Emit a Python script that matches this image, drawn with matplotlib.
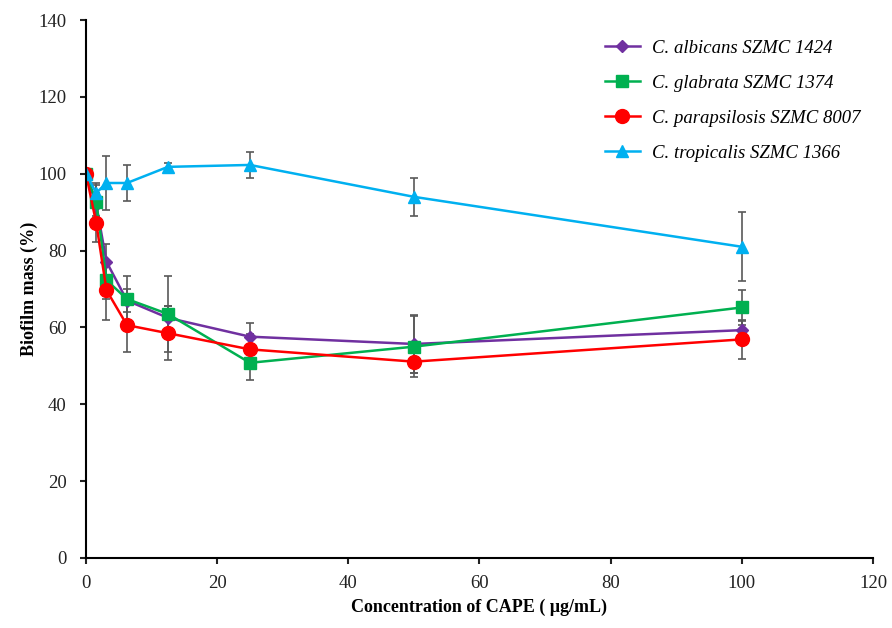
import numpy as np
import matplotlib.pyplot as plt

plt.rcParams['font.family'] = ['Liberation Serif', 'DejaVu Serif']

# concentrations of CAPE (ug/mL)
conc = [0, 1.5625, 3.125, 6.25, 12.5, 25, 50, 100]

albicans = [100, 92.0, 77.1, 67.0, 62.5, 57.6, 55.7, 59.3]
albicans_err = [0, 3.0, 4.5, 3.0, 3.0, 3.5, 7.5, 2.5]

glabrata = [100, 92.7, 72.3, 67.4, 63.5, 50.8, 55.0, 65.2]
glabrata_err = [0, 5.0, 5.0, 6.0, 10.0, 4.5, 8.0, 4.5]

parapsilosis = [100, 87.2, 69.7, 60.6, 58.5, 54.3, 51.1, 56.9]
parapsilosis_err = [0, 5.0, 7.7, 7.0, 7.0, 4.0, 3.0, 5.0]

tropicalis = [100, 95.0, 97.6, 97.6, 101.8, 102.3, 94.0, 81.0]
tropicalis_err = [0, 2.0, 7.0, 4.7, 1.0, 3.3, 5.0, 9.0]

series = [
    ("C. albicans SZMC 1424", albicans, albicans_err, "#7030A0", "D", 6),
    ("C. glabrata SZMC 1374", glabrata, glabrata_err, "#00B050", "s", 9),
    ("C. parapsilosis SZMC 8007", parapsilosis, parapsilosis_err, "#FF0000", "o", 10),
    ("C. tropicalis SZMC 1366", tropicalis, tropicalis_err, "#00B0F0", "^", 9),
]

fig = plt.figure(figsize=(8.92, 6.28), dpi=100)
ax = fig.add_axes([0.0964, 0.1115, 0.8823, 0.8565])

# error bars first (gray), then lines with markers
for name, vals, err, col, mk, ms in series:
    ax.errorbar(conc, vals, yerr=err, fmt='none', ecolor='#595959',
                elinewidth=1.2, capsize=3, capthick=1.2, zorder=1)

for name, vals, err, col, mk, ms in series:
    ax.plot(conc, vals, color=col, marker=mk, markersize=ms, linewidth=1.8,
            label=name, zorder=2)

ax.set_xlim(0, 120)
ax.set_ylim(0, 140)
ax.set_xticks(np.arange(0, 121, 20))
ax.set_yticks(np.arange(0, 141, 20))
ax.spines['top'].set_visible(False)
ax.spines['right'].set_visible(False)
ax.spines['left'].set_linewidth(1.5)
ax.spines['bottom'].set_linewidth(1.5)
ax.tick_params(direction='out', length=4, width=1.5, labelsize=13.5, colors='#222222')
ax.tick_params(axis='x', pad=8)
ax.tick_params(axis='y', pad=10)

ax.set_xlabel("Concentration of CAPE ( \u03bcg/mL)", fontsize=13, fontweight='bold',
              labelpad=5)
ax.set_ylabel("Biofilm mass (%)", fontsize=13, fontweight='bold', labelpad=0)

leg = ax.legend(loc='upper right', frameon=False, prop={'style': 'italic', 'size': 13.5},
                handlelength=1.9, handletextpad=0.6, labelspacing=0.95,
                bbox_to_anchor=(1.005, 0.995))

fig.savefig("out.png", dpi=100)
